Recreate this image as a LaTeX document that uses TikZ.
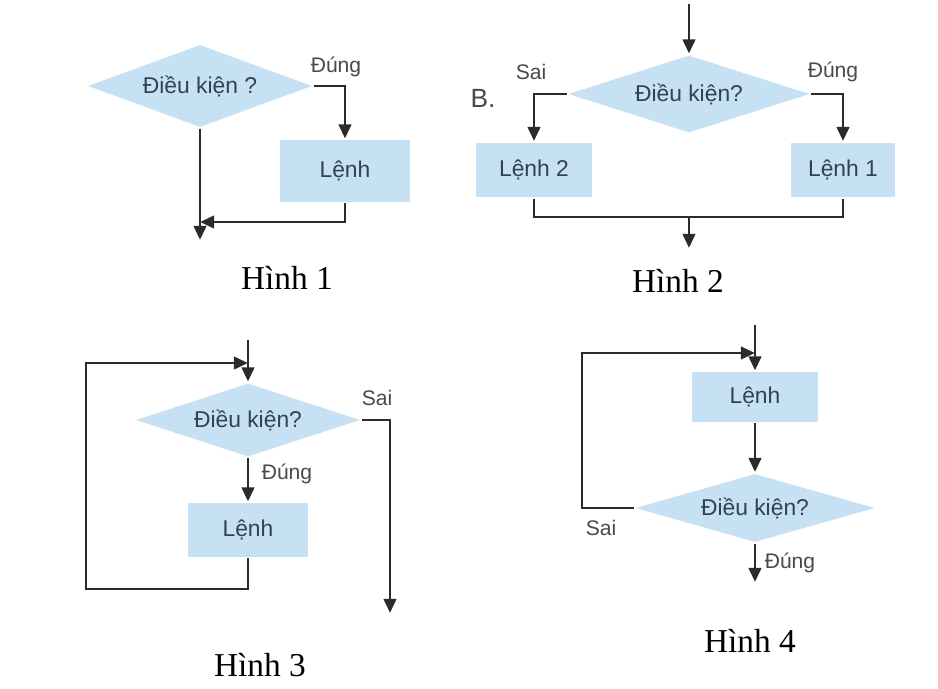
\documentclass[tikz,border=0pt]{standalone}
\usepackage{fontspec}
\setmainfont{Liberation Serif}
\setsansfont{Liberation Sans}
\usetikzlibrary{shapes.geometric,arrows.meta}

\definecolor{boxblue}{HTML}{C6E0F4}
\definecolor{linegrey}{HTML}{2B2B2B}
\definecolor{textgrey}{HTML}{34414E}
\definecolor{labelgrey}{HTML}{4A4A4A}

\tikzset{
  cond/.style={diamond,aspect=3,fill=boxblue,inner sep=0pt,text=textgrey,font=\sffamily\fontsize{13}{15}\selectfont},
  stmt/.style={rectangle,fill=boxblue,inner sep=0pt,text=textgrey,font=\sffamily\fontsize{13}{15}\selectfont},
  lbl/.style={text=labelgrey,font=\sffamily\fontsize{12}{14}\selectfont},
  caption/.style={font=\fontsize{19}{22}\selectfont}
}

\begin{document}
\begin{tikzpicture}[x=0.02cm,y=-0.02cm,>={Triangle[length=8pt,width=7pt]},line width=1.7pt,draw=linegrey]
\useasboundingbox[fill=white] (0,0) rectangle (938,689);

\node[cond,minimum width=4.5cm,minimum height=1.66cm] (d1) at (200,86) {Điều kiện ?};
\node[stmt,minimum width=2.6cm,minimum height=1.24cm] (b1) at (345,171) {Lệnh};
\coordinate (j1) at (200,222);
\coordinate (o1) at (200,240);

\draw[->] (d1.east) -| (b1.north);
\draw[->] (d1.south) -- (o1);
\draw[->] (b1.south) |- (j1);

\node[lbl] (t1) at (336,67) {Đúng};
\node[caption] (h1) at (287,278) {Hình 1};

\node[cond,minimum width=4.84cm,minimum height=1.56cm] (d2) at (689,94) {Điều kiện?};
\node[stmt,minimum width=2.32cm,minimum height=1.1cm] (b22) at (534,170) {Lệnh 2};
\node[stmt,minimum width=2.1cm,minimum height=1.1cm] (b21) at (843,170) {Lệnh 1};
\coordinate (i2) at (689,4);
\coordinate (j2) at (689,217);
\coordinate (o2) at (689,248);

\draw[->] (i2) -- (d2.north);
\draw[->] (d2.west) -| (b22.north);
\draw[->] (d2.east) -| (b21.north);
\draw (b22.south) |- (j2) -| (b21.south);
\draw[->] (j2) -- (o2);

\node[lbl] (s2) at (531,72) {Sai};
\node[lbl] (t2) at (833,72) {Đúng};
\node[text=labelgrey,font=\sffamily\fontsize{15}{17}\selectfont] (bb) at (483,98) {B.};
\node[caption] (h2) at (678,281) {Hình 2};

\node[cond,minimum width=4.5cm,minimum height=1.48cm] (d3) at (248,420) {Điều kiện?};
\node[stmt,minimum width=2.4cm,minimum height=1.08cm] (b3) at (248,530) {Lệnh};
\coordinate (i3) at (248,340);
\coordinate (m3) at (248,363);
\coordinate (l3a) at (86,589);
\coordinate (l3b) at (86,363);
\coordinate (o3) at (390,613);

\draw[->] (i3) -- (d3.north);
\draw[->] (d3.south) -- (b3.north);
\draw[->] (b3.south) |- (l3a) -- (l3b) -- (m3);
\draw[->] (d3.east) -| (o3);

\node[lbl] (s3) at (377,398) {Sai};
\node[lbl] (t3) at (287,474) {Đúng};
\node[caption] (h3) at (260,665) {Hình 3};

\node[stmt,minimum width=2.52cm,minimum height=1.0cm] (b4) at (755,397) {Lệnh};
\node[cond,minimum width=4.8cm,minimum height=1.38cm] (d4) at (755,508) {Điều kiện?};
\coordinate (i4) at (755,325);
\coordinate (m4) at (755,353);
\coordinate (l4) at (582,353);
\coordinate (o4) at (755,582);

\draw[->] (i4) -- (b4.north);
\draw[->] (b4.south) -- (d4.north);
\draw[->] (d4.west) -| (l4) -- (m4);
\draw[->] (d4.south) -- (o4);

\node[lbl] (s4) at (601,528) {Sai};
\node[lbl] (t4) at (790,563) {Đúng};
\node[caption] (h4) at (750,641) {Hình 4};

\end{tikzpicture}
\end{document}
